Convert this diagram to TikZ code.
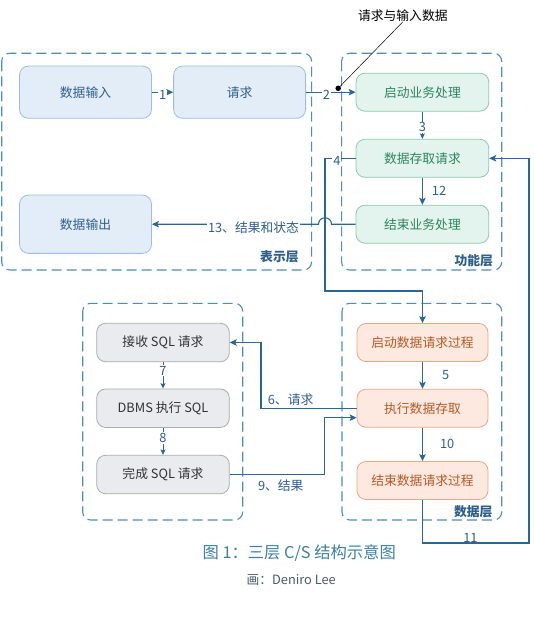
\documentclass[tikz,border=0pt]{standalone}
\usepackage{fontspec}
\setmainfont{Noto Sans CJK SC}
\usetikzlibrary{arrows.meta}
\definecolor{frameC}{HTML}{4A8EBE}
\definecolor{arrC}{HTML}{2B6696}
\definecolor{lblC}{HTML}{2D5F8C}
\definecolor{pfill}{HTML}{E3EDF8}
\definecolor{pline}{HTML}{9DBCE0}
\definecolor{ptext}{HTML}{2F5F8C}
\definecolor{gfill}{HTML}{E3F4EE}
\definecolor{gline}{HTML}{8CC9AE}
\definecolor{gtext}{HTML}{2E8460}
\definecolor{yfill}{HTML}{EAEBEE}
\definecolor{yline}{HTML}{A9ACB2}
\definecolor{ytext}{HTML}{333333}
\definecolor{ofill}{HTML}{FDE9E0}
\definecolor{oline}{HTML}{EBA68A}
\definecolor{otext}{HTML}{B35A26}
\definecolor{capC}{HTML}{3C7FA8}
\definecolor{subC}{HTML}{4A5A6A}
\tikzset{
  box/.style={draw, rounded corners=9pt, line width=0.8pt, align=center,
    font=\fontsize{12.8}{15}\selectfont, inner sep=0pt},
  pbox/.style={box, fill=pfill, draw=pline, text=ptext, minimum width=132pt},
  gbox/.style={box, fill=gfill, draw=gline, text=gtext, minimum width=132.8pt, minimum height=38pt},
  ybox/.style={box, fill=yfill, draw=yline, text=ytext, minimum width=132.6pt, minimum height=38.5pt},
  obox/.style={box, fill=ofill, draw=oline, text=otext, minimum width=131pt, minimum height=38pt},
  frame/.style={draw=frameC, dash pattern=on 10pt off 5pt, line width=1.1pt, rounded corners=8pt},
  conn/.style={draw=arrC, line width=1.1pt, -{Stealth[length=7pt,width=6.5pt,inset=1.5pt]}},
  sconn/.style={draw=arrC, line width=0.9pt, -{Stealth[length=5.5pt,width=5pt,inset=1.2pt]}},
  lbl/.style={fill=white, text=lblC, font=\fontsize{12.8}{15}\selectfont, inner sep=1pt},
  nlbl/.style={text=lblC, font=\fontsize{12.8}{15}\selectfont, inner sep=1pt},
  layer/.style={text=ptext, font=\fontsize{12.8}{15}\selectfont\bfseries, inner sep=0pt},
}
\begin{document}
\begin{tikzpicture}[x=1pt,y=-1pt]
\useasboundingbox[fill=white] (0,0) rectangle (534,620);

% frames
\draw[frame] (1.7,53.3) rectangle (311.6,270);
\draw[frame] (341.6,53.3) rectangle (501.7,270);
\draw[frame] (82.7,303.3) rectangle (242.7,520);
\draw[frame] (342,303.3) rectangle (501.7,520);

\node[layer] (lp) at (279.4,256.7) {表示层};
\node[layer] (lf) at (473.8,261) {功能层};
\node[layer] (ld) at (473.3,511.7) {数据层};

% presentation layer
\node[pbox, minimum height=52.3pt] (in)  at (85.5,92.2) {数据输入};
\node[pbox, minimum height=52.3pt] (req) at (239.6,92.2) {请求};
\node[pbox, minimum height=58.3pt] (out) at (85.5,224.2) {数据输出};

% function layer
\node[gbox] (sbp) at (422.4,92.2) {启动业务处理};
\node[gbox] (dsq) at (422.4,158.3) {数据存取请求};
\node[gbox] (ebp) at (422.4,224.2) {结束业务处理};

% data layer
\node[obox] (sdp) at (422.5,342.5) {启动数据请求过程};
\node[obox] (exe) at (422.5,408.2) {执行数据存取};
\node[obox] (edp) at (422.5,480.5) {结束数据请求过程};

% DBMS
\node[ybox] (rcv) at (163,342.5) {接收 SQL 请求};
\node[ybox] (dbm) at (163,408.2) {DBMS 执行 SQL};
\node[ybox] (fin) at (163,474.5) {完成 SQL 请求};

% callout
\node[font=\fontsize{12.8}{15}\selectfont, inner sep=0pt] (call) at (402.8,15.7) {请求与输入数据};
\node[circle, fill=black, inner sep=0pt, minimum size=5.5pt] (dot) at (338.2,88.3) {};

% connectors
\draw[conn] (in.east) -- node[lbl, yshift=-3pt]{1} (req.west);
\draw[conn] (req.east) -- node[lbl, pos=0.41, yshift=-3pt]{2} (sbp.west);
\draw[black, line width=0.5pt] (dot.center) -- (call.south);
\draw[sconn] (sbp.south) -- node[lbl, pos=0.58]{3} (dsq.north);

\coordinate (b4) at (325,291);
\draw[conn] (dsq.west) -- node[lbl, pos=0.61, yshift=-3pt]{4} (dsq.west -| b4) -- (b4) -| (sdp.north);

\draw[conn] (sdp.south) -- node[nlbl, right=18pt]{5} (exe.north);

\coordinate (b6) at (261,408.2);
\draw[conn] (exe.west) -- node[nlbl, pos=0.69, above=1pt]{6、请求} (b6) |- (rcv.east);

\draw[sconn] (rcv.south) -- node[lbl, pos=0.33]{7} (dbm.north);
\draw[sconn] (dbm.south) -- node[lbl, pos=0.38]{8} (fin.north);

\coordinate (b9) at (324.3,474.5);
\draw[conn] (fin.east) -- node[nlbl, pos=0.54, below=4pt]{9、结果} (b9) |- ([yshift=-9.5pt]exe.west);

\draw[conn] (exe.south) -- node[nlbl, right=16pt]{10} (edp.north);

\coordinate (b11) at (529,543);
\draw[conn] (edp.south) -- (edp.south |- b11) -- node[nlbl, pos=0.45, yshift=5pt]{11} (b11) |- (dsq.east);

\draw[conn] (dsq.south) -- node[nlbl, right=8pt]{12} (ebp.north);

\coordinate (hopR) at (331.5,224.2);
\coordinate (hopL) at (318.5,224.2);
\draw[conn] (ebp.west) -- (hopR) .. controls +(0pt,8.5pt) and +(0pt,8.5pt) .. (hopL)
  -- node[lbl, pos=0.39, yshift=-3.5pt]{13、结果和状态} (out.east);

% captions
\node[text=capC, font=\fontsize{16.3}{19}\selectfont, inner sep=0pt] (cap) at (299.2,552.7) {图 1：三层 C/S 结构示意图};
\node[text=subC, font=\fontsize{12.8}{15}\selectfont, inner sep=0pt] (sub) at (291.2,580) {画：Deniro Lee};
\end{tikzpicture}
\end{document}
